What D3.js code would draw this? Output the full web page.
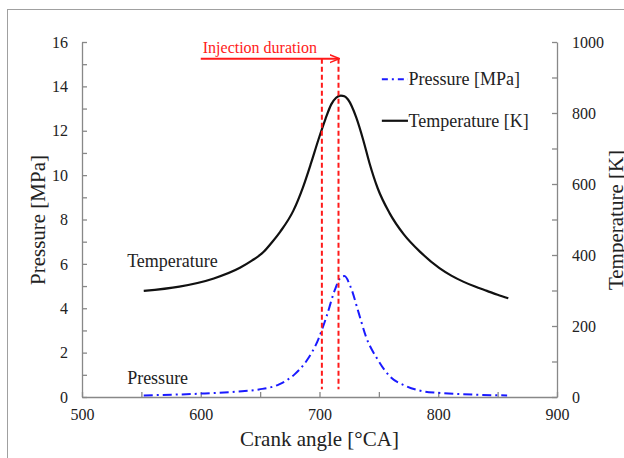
<!DOCTYPE html>
<html>
<head>
<meta charset="utf-8">
<script src="https://cdn.jsdelivr.net/npm/d3@7"></script>
<style>
  body { margin: 0; background: #fff; }
</style>
</head>
<body>
<svg id="chart"></svg>
<script>
// crank angle [°CA] and the two series
const tempAngle = [552, 582, 611, 633, 643, 653, 660, 667, 678, 686, 693, 699, 705, 710, 714, 718, 721, 724, 731, 737, 742, 749, 759, 771, 785, 801, 811, 821, 831, 841, 850, 859]
const tempK = [299, 311, 334, 364, 384, 409, 436, 466, 525, 590, 660, 724, 783, 825, 843, 849, 847, 838, 787, 722, 660, 588, 518, 458, 408, 363, 342, 325, 311, 299, 288, 278]

const presAngle = [552, 599, 630, 649, 666, 679, 689, 699, 706, 713, 718, 721, 726, 733, 739, 749, 759, 773, 786, 800, 833, 858]
const presMPa = [0.07, 0.15, 0.24, 0.34, 0.57, 1.02, 1.62, 2.6, 3.64, 4.84, 5.4, 5.45, 4.99, 3.79, 2.74, 1.69, 0.94, 0.49, 0.27, 0.19, 0.1, 0.07]

const injection = [702, 716]     // start / end of injection [°CA]
const injectionArrowFrom = 600
const xTicks = d3.range(500, 901, 50)
const pTicks = d3.range(0, 17, 1)
const tTicks = d3.range(0, 1001, 100)

const width = 624
const height = 458
const margin = { top: 42, right: 67, bottom: 61, left: 82 }
const serif = '"Liberation Serif", "Times New Roman", "DejaVu Serif", serif'

const svg = d3.select('#chart')
    .attr('width', width)
    .attr('height', height)
    .style('font-family', serif)

// outer frame of the original figure
svg.append('rect')
    .attr('x', 7.5).attr('y', 9.5)
    .attr('width', width).attr('height', height)
    .attr('fill', 'none').attr('stroke', '#a0a0a0')

const x = d3.scaleLinear().domain([500, 900]).range([margin.left, width - margin.right])
const yP = d3.scaleLinear().domain([0, 16]).range([height - margin.bottom, margin.top])
const yT = d3.scaleLinear().domain([0, 1000]).range([height - margin.bottom, margin.top])

function styleAxis(g) {
    g.attr('font-family', null)
    g.select('.domain').attr('stroke', '#888').attr('stroke-width', 1.3)
    g.selectAll('.tick line').attr('stroke', '#888').attr('stroke-width', 1.3)
    g.selectAll('.tick text').attr('fill', '#222')
        .style('font-family', serif).style('font-size', '16px')
}

svg.append('g')
    .attr('transform', `translate(0, ${height - margin.bottom})`)
    .call(d3.axisBottom(x).tickValues(xTicks)
        .tickFormat(d => d % 100 === 0 ? d : '')
        .tickSizeInner(-5).tickSizeOuter(0).tickPadding(12))
    .call(styleAxis)

svg.append('g')
    .attr('transform', `translate(${margin.left}, 0)`)
    .call(d3.axisLeft(yP).tickValues(pTicks)
        .tickFormat(d => d % 2 === 0 ? d : '')
        .tickSizeInner(-5).tickSizeOuter(0).tickPadding(14))
    .call(styleAxis)

svg.append('g')
    .attr('transform', `translate(${width - margin.right}, 0)`)
    .call(d3.axisRight(yT).tickValues(tTicks)
        .tickFormat(d => d % 200 === 0 ? d : '')
        .tickSizeInner(-5).tickSizeOuter(0).tickPadding(15))
    .call(styleAxis)

function label(sel, size, color) {
    return sel.attr('fill', color || '#222')
        .style('font-family', serif).style('font-size', size + 'px')
}

// axis titles
svg.append('text')
    .attr('x', (margin.left + width - margin.right) / 2).attr('y', 446)
    .attr('text-anchor', 'middle')
    .call(label, 21)
    .text('Crank angle [°CA]')

svg.append('text')
    .attr('transform', `translate(45, 220) rotate(-90)`)
    .attr('text-anchor', 'middle')
    .call(label, 21)
    .text('Pressure [MPa]')

svg.append('text')
    .attr('transform', `translate(623, 220) rotate(-90)`)
    .attr('text-anchor', 'middle')
    .call(label, 21)
    .text('Temperature [K]')

// curves
const tLine = d3.line().x((d, i) => x(tempAngle[i])).y(d => yT(d)).curve(d3.curveMonotoneX)
const pLine = d3.line().x((d, i) => x(presAngle[i])).y(d => yP(d)).curve(d3.curveMonotoneX)

svg.append('path')
    .attr('d', tLine(tempK))
    .attr('fill', 'none').attr('stroke', '#111').attr('stroke-width', 2.2)

svg.append('path')
    .attr('d', pLine(presMPa))
    .attr('fill', 'none').attr('stroke', '#1a1aff').attr('stroke-width', 2)
    .attr('stroke-dasharray', '9,4,2,4')

// injection duration markers
const red = '#ff1a1a'
svg.append('defs').append('marker')
    .attr('id', 'arrow').attr('viewBox', '0 0 10 10')
    .attr('refX', 9).attr('refY', 5)
    .attr('markerWidth', 5).attr('markerHeight', 5)
    .attr('orient', 'auto')
    .append('path').attr('d', 'M0,1 L10,5 L0,9').attr('fill', 'none')
    .attr('stroke', red).attr('stroke-width', 1.5)

svg.selectAll('.inj')
    .data(injection)
    .join('line')
    .attr('class', 'inj')
    .attr('x1', d => x(d)).attr('x2', d => x(d))
    .attr('y1', yP(15.25)).attr('y2', yP(0.35))
    .attr('stroke', red).attr('stroke-width', 2)
    .attr('stroke-dasharray', '5,3')

svg.append('line')
    .attr('x1', x(injectionArrowFrom)).attr('x2', x(injection[1]))
    .attr('y1', yP(15.25)).attr('y2', yP(15.25))
    .attr('stroke', red).attr('stroke-width', 2)
    .attr('marker-end', 'url(#arrow)')

svg.append('text')
    .attr('x', x(injectionArrowFrom) + 2).attr('y', yP(15.5))
    .call(label, 16, red)
    .text('Injection duration')

// curve labels
svg.append('text')
    .attr('x', x(538)).attr('y', yP(6.1) + 5)
    .call(label, 18)
    .text('Temperature')

svg.append('text')
    .attr('x', x(538)).attr('y', yP(0.79) + 5)
    .call(label, 18)
    .text('Pressure')

// legend
const legend = [
    { name: 'Pressure [MPa]', p: 14.32, color: '#1a1aff', dash: '6,4,2,4', w: 2 },
    { name: 'Temperature [K]', p: 12.45, color: '#111', dash: null, w: 2.2 }
]
const lg = svg.append('g')
lg.selectAll('line')
    .data(legend)
    .join('line')
    .attr('x1', x(752.5)).attr('x2', x(774.5))
    .attr('y1', d => yP(d.p)).attr('y2', d => yP(d.p))
    .attr('stroke', d => d.color).attr('stroke-width', d => d.w)
    .attr('stroke-dasharray', d => d.dash)
lg.selectAll('text')
    .data(legend)
    .join('text')
    .attr('x', x(775)).attr('y', d => yP(d.p) + 6)
    .call(label, 18)
    .text(d => d.name)
</script>
</body>
</html>
